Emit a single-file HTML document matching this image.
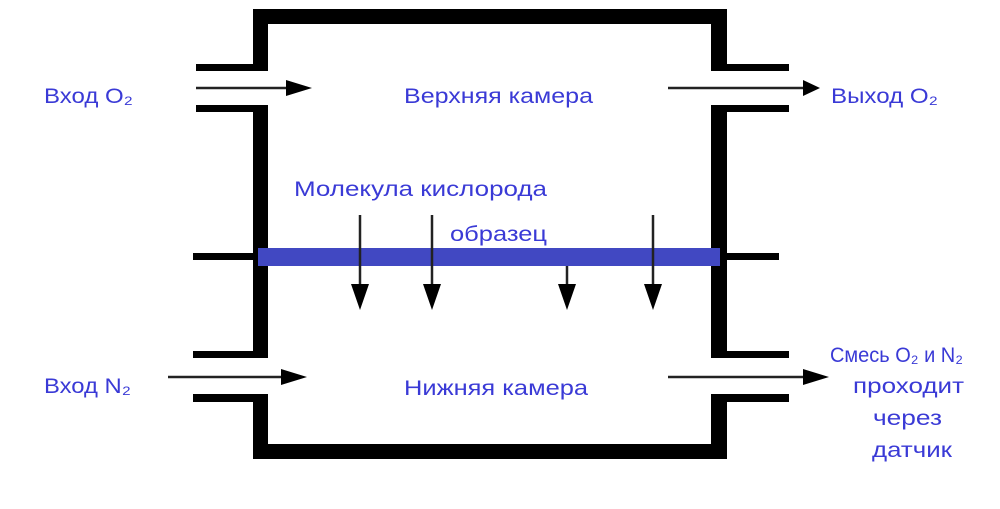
<!DOCTYPE html>
<html><head><meta charset="utf-8"><style>
body{margin:0;background:#fff}
svg text{font-family:"Liberation Sans","DejaVu Sans",sans-serif;font-size:21px;fill:#3a3ad6}
</style></head><body>
<svg width="1000" height="504" viewBox="0 0 1000 504">
<g fill="#000">
<rect x="253" y="9" width="474" height="15"/>
<rect x="253" y="9" width="15" height="62"/>
<rect x="196" y="64" width="72" height="7"/>
<rect x="711" y="9" width="16" height="62"/>
<rect x="711" y="64" width="78" height="7"/>
<rect x="253" y="105" width="15" height="253"/>
<rect x="196" y="105" width="72" height="7"/>
<rect x="711" y="105" width="16" height="253"/>
<rect x="711" y="105" width="78" height="7"/>
<rect x="193" y="253" width="65" height="7"/>
<rect x="727" y="253" width="52" height="7"/>
<rect x="193" y="351" width="75" height="7"/>
<rect x="711" y="351" width="78" height="7"/>
<rect x="253" y="394" width="15" height="65"/>
<rect x="193" y="394" width="75" height="8"/>
<rect x="711" y="394" width="16" height="65"/>
<rect x="711" y="394" width="78" height="8"/>
<rect x="253" y="444" width="474" height="15"/>
</g>
<rect x="258" y="248" width="462" height="18" fill="#4148c2"/>
<g stroke="#222" stroke-width="2.5">
<line x1="196" y1="88" x2="290" y2="88"/>
<line x1="668" y1="88" x2="805" y2="88"/>
<line x1="168" y1="377" x2="285" y2="377"/>
<line x1="668" y1="377" x2="810" y2="377"/>
<line x1="360" y1="215" x2="360" y2="290"/>
<line x1="432" y1="215" x2="432" y2="290"/>
<line x1="567" y1="266" x2="567" y2="290"/>
<line x1="653" y1="215" x2="653" y2="290"/>
</g>
<g fill="#000">
<polygon points="286,80 312,88 286,96"/>
<polygon points="803,80 820,88 803,96"/>
<polygon points="281,369 307,377 281,385"/>
<polygon points="803,369 829,377 803,385"/>
<polygon points="351,284 369,284 360,310"/>
<polygon points="423,284 441,284 432,310"/>
<polygon points="558,284 576,284 567,310"/>
<polygon points="644,284 662,284 653,310"/>
</g>
<text x="44" y="103" textLength="89" lengthAdjust="spacingAndGlyphs">Вход O₂</text>
<text x="404" y="103" textLength="189" lengthAdjust="spacingAndGlyphs">Верхняя камера</text>
<text x="831" y="103" textLength="107" lengthAdjust="spacingAndGlyphs">Выход O₂</text>
<text x="294" y="196" textLength="253" lengthAdjust="spacingAndGlyphs">Молекула кислорода</text>
<text x="450" y="241" textLength="97" lengthAdjust="spacingAndGlyphs">образец</text>
<text x="44" y="393" textLength="87" lengthAdjust="spacingAndGlyphs">Вход N₂</text>
<text x="404" y="395" textLength="184" lengthAdjust="spacingAndGlyphs">Нижняя камера</text>
<text x="830" y="362" textLength="133" lengthAdjust="spacingAndGlyphs">Смесь O₂ и N₂</text>
<text x="853" y="393" textLength="111" lengthAdjust="spacingAndGlyphs">проходит</text>
<text x="873" y="425" textLength="69" lengthAdjust="spacingAndGlyphs">через</text>
<text x="872" y="457" textLength="80" lengthAdjust="spacingAndGlyphs">датчик</text>
</svg>
</body></html>
